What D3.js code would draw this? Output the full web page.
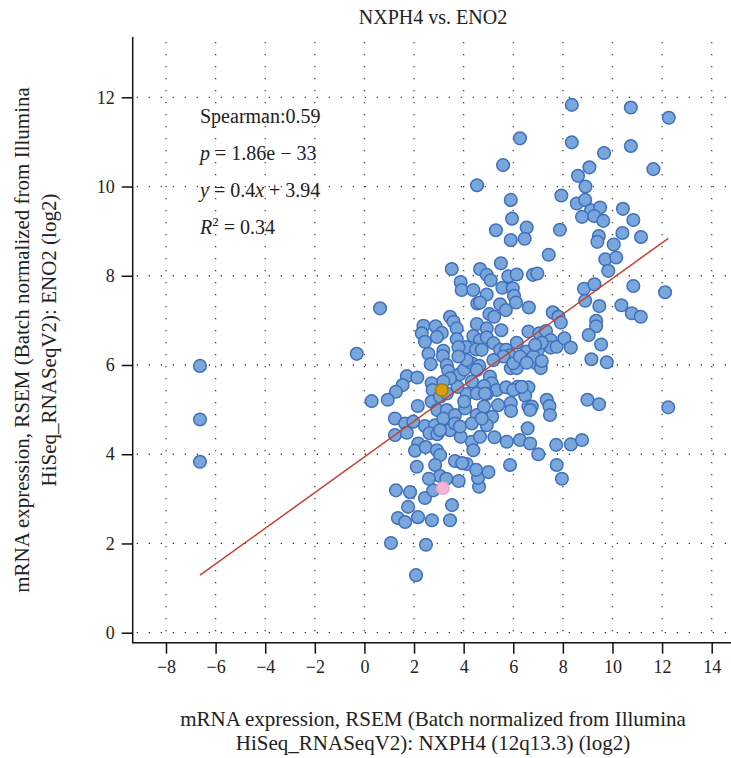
<!DOCTYPE html>
<html>
<head>
<meta charset="utf-8">
<script src="https://cdn.jsdelivr.net/npm/d3@7"></script>
<style>
  body { margin: 0; background: #fff; }
  text { font-family: "Liberation Serif", "DejaVu Serif", serif; fill: #222; }
</style>
</head>
<body>
<div id="chart"></div>
<script>
// NXPH4 (x) and ENO2 (y) expression, log2
const nxph4 = [
  -6.63, -6.63, -6.63, -0.31, 0.63,
  3.52, 4.66, 5.5, 7.43, 4.93, 5.09, 5.8, 6.14, 6.79, 6.97, 3.88, 3.92, 4.39, 4.93, 5.56,
  5.98, 6.03, 6.11, 4.55, 4.66, 5.47, 5.7, 6.63, 7.62, 3.45, 3.59, 3.72, 2.38, 2.87, 3.12,
  2.92, 2.31, 2.44, 4.53, 4.93, 5.04, 5.23, 5.52, 4.39, 4.66, 4.93, 5.2, 3.72, 4.1, 3.79,
  4.5, 4.73, 2.58, 2.67, 3.18, 3.16, 5.47, 5.71, 5.87, 6.14, 6.61, 7.05, 7.32, 6.54, 7.0,
  6.92, 7.11, 7.51, 7.51, 7.75, 5.6, 5.9, 6.14, 6.0, 3.32, 3.38, 3.59, 3.83, 4.02, 4.33,
  4.63, 5.06, 5.13, 4.82, 5.33, 4.93, 1.71, 2.13, 2.71, 2.75, 2.71, 2.94, 3.32, 1.54, 1.27,
  0.94, 0.29, 2.15, 1.23, 1.64, 1.97, 2.44, 2.85, 3.18, 3.65, 4.06, 4.12, 4.53, 4.82, 5.15,
  4.93, 5.39, 5.9, 5.91, 5.71, 6.17, 6.61, 6.48, 6.61, 6.75, 7.35, 7.46, 7.48, 1.23, 1.71,
  2.17, 2.62, 2.94, 3.45, 3.88, 4.33, 4.66, 5.24, 5.74, 6.27, 6.58, 6.68, 7.01, 7.73, 2.04,
  2.47, 2.92, 3.05, 3.65, 4.12, 4.39, 2.11, 2.85, 5.87, 7.75,
  3.75, 4.02, 3.65, 3.85, 3.05, 4.53, 4.86, 6.0, 6.34, 4.33, 4.73, 3.45, 3.18, 3.05, 3.32,
  4.33, 4.53, 4.12, 3.79, 5.2, 6.27, 6.81,
  8.36, 10.74, 12.27, 6.27, 8.36, 10.74, 9.66, 11.65, 9.07, 8.61, 8.91, 7.94, 8.56, 8.9, 9.14,
  9.5, 8.77, 9.26, 9.63, 10.42, 10.84, 6.54, 6.46, 7.88, 9.45, 9.39, 10.4, 11.15, 10.05, 9.71,
  10.15, 9.83, 8.85, 9.27, 10.84, 12.12, 8.9, 9.47, 10.36, 10.78, 11.14, 7.59, 7.82, 7.92, 9.34,
  9.34, 8.06, 8.32, 9.04, 9.54, 9.15, 9.77, 7.15, 6.88, 6.54, 7.15, 6.68, 8.99, 9.46, 12.25,
  8.32, 8.77,
  4.54, 5.59, 5.9, 5.95, 5.3, 5.9,
  1.07, 2.08, 2.48, 2.16, 1.35, 1.64, 1.27, 1.76, 1.84, 2.44, 2.77, 3.05, 2.72, 3.53, 3.45,
  4.62, 4.58, 4.5, 3.94, 7.96, 3.3, 3.8, 5.0, 2.6
];
const eno2 = [
  5.98, 4.78, 3.83, 6.25, 7.27,
  8.15, 8.15, 8.28, 8.47, 8.02, 7.9, 7.99, 8.03, 8.02, 8.05, 7.86, 7.68, 7.68, 7.58, 7.73,
  7.72, 7.55, 7.4, 7.38, 7.4, 7.36, 7.23, 7.29, 7.17, 7.08, 6.97, 6.82, 6.88, 6.87, 6.72,
  6.63, 6.71, 6.52, 6.92, 6.82, 7.14, 7.08, 6.78, 6.65, 6.56, 6.62, 6.49, 6.58, 6.4, 6.4,
  6.35, 6.34, 6.25, 6.02, 6.32, 6.2, 6.34, 6.34, 6.22, 6.5, 6.75, 6.71, 6.76, 6.3, 6.34,
  6.04, 5.93, 6.56, 6.39, 6.41, 6.19, 5.93, 5.93, 6.04, 6.0, 5.87, 5.7, 5.79, 5.9, 6.04,
  5.98, 5.74, 5.59, 5.53, 5.44, 5.35, 5.75, 5.72, 5.59, 5.44, 5.18, 4.99, 4.99, 5.55, 5.4,
  5.22, 5.19, 5.08, 4.8, 4.69, 4.73, 4.63, 4.65, 4.8, 4.88, 5.03, 5.35, 4.88, 5.07, 4.84,
  4.65, 5.1, 5.15, 4.97, 5.5, 5.51, 5.5, 5.31, 5.07, 5.07, 5.22, 5.08, 4.88, 4.43, 4.48,
  4.24, 4.47, 4.45, 4.54, 4.39, 4.28, 4.39, 4.38, 4.28, 4.32, 4.58, 4.24, 4.0, 4.21, 4.08,
  4.16, 4.09, 3.98, 3.85, 3.78, 4.09, 3.72, 3.76, 3.76, 3.76,
  5.51, 5.18, 4.69, 4.62, 4.54, 5.36, 5.36, 5.44, 5.51, 4.69, 4.8, 5.7, 5.63, 5.29, 5.36,
  5.63, 5.89, 6.11, 6.19, 6.11, 6.19, 6.19,
  11.83, 11.77, 11.54, 11.08, 10.99, 10.91, 10.75, 10.39, 10.43, 10.24, 10.0, 9.8, 9.62, 9.7, 9.47,
  9.53, 9.32, 9.34, 9.23, 9.5, 9.25, 9.08, 8.83, 9.03, 8.89, 8.76, 8.96, 8.87, 8.7, 8.37,
  8.41, 8.11, 7.71, 7.81, 7.77, 7.63, 7.44, 7.32, 7.34, 7.16, 7.08, 7.18, 7.08, 6.95, 6.99,
  6.87, 6.6, 6.39, 6.67, 6.46, 6.13, 6.06, 6.5, 6.45, 6.05, 6.09, 4.99, 5.22, 5.12, 5.05,
  4.22, 4.32,
  10.03, 10.48, 9.7, 9.28, 9.02, 8.8,
  2.01, 1.29, 1.97, 2.59, 2.57, 2.48, 3.19, 2.82, 3.15, 3.02, 3.19, 3.51, 2.52, 2.86, 2.52,
  3.27, 3.47, 3.65, 3.8, 3.45, 3.45, 3.4, 3.6, 3.45
];
// highlighted samples
const goldPoint = [3.12, 5.44];
const pinkPoint = [3.16, 3.24];

const xTicks = [-8, -6, -4, -2, 0, 2, 4, 6, 8, 10, 12, 14];
const yTicks = [0, 2, 4, 6, 8, 10, 12];
const fitSlope = 0.4, fitIntercept = 3.94;
const fitRange = [-6.63, 12.25];

const width = 731, height = 758;
const svg = d3.select('#chart').append('svg')
    .attr('width', width)
    .attr('height', height);

const x = d3.scaleLinear().domain([-8, 14]).range([166, 711.7]);
const y = d3.scaleLinear().domain([0, 12]).range([632.7, 97.3]);

const axisLeft = 132.7, axisBottom = 642.7, plotTop = 37, plotRight = 726;

// dotted grid
const grid = svg.append('g')
    .attr('stroke', '#444')
    .attr('stroke-width', 1.3)
    .attr('stroke-dasharray', '1.3,10.7');
grid.selectAll('.vg').data(xTicks).join('line')
    .attr('x1', d => x(d)).attr('x2', d => x(d))
    .attr('y1', plotTop + 5).attr('y2', axisBottom);
grid.selectAll('.hg').data(yTicks).join('line')
    .attr('x1', axisLeft + 4).attr('x2', plotRight)
    .attr('y1', d => y(d)).attr('y2', d => y(d));

// axes
const xAxis = d3.axisBottom(x).tickValues(xTicks).tickSize(11).tickPadding(7)
    .tickFormat(d => d < 0 ? '\u2212' + Math.abs(d) : d);
svg.append('g')
    .attr('transform', `translate(0,${axisBottom})`)
    .call(xAxis)
    .call(g => g.select('.domain').remove())
    .call(g => g.selectAll('line').attr('stroke', '#111').attr('stroke-width', 1.5))
    .call(g => g.selectAll('text').attr('font-size', 18).attr('fill', '#222')
        .attr('font-family', '"Liberation Serif", serif'));

const yAxis = d3.axisLeft(y).tickValues(yTicks).tickSize(11).tickPadding(7);
svg.append('g')
    .attr('transform', `translate(${axisLeft},0)`)
    .call(yAxis)
    .call(g => g.select('.domain').remove())
    .call(g => g.selectAll('line').attr('stroke', '#111').attr('stroke-width', 1.5))
    .call(g => g.selectAll('text').attr('font-size', 18).attr('fill', '#222')
        .attr('font-family', '"Liberation Serif", serif'));

svg.append('path')
    .attr('d', `M${axisLeft},${plotTop}V${axisBottom}H${width}`)
    .attr('fill', 'none')
    .attr('stroke', '#111')
    .attr('stroke-width', 1.5);

// points
const pts = nxph4.map((v, i) => [v, eno2[i]]);
svg.append('g')
    .selectAll('circle')
    .data(pts)
    .join('circle')
    .attr('cx', d => x(d[0]))
    .attr('cy', d => y(d[1]))
    .attr('r', 6.3)
    .attr('fill', '#7aa7db')
    .attr('stroke', '#3f6fbd')
    .attr('stroke-width', 1.5);

svg.append('circle')
    .attr('cx', x(pinkPoint[0])).attr('cy', y(pinkPoint[1])).attr('r', 6.3)
    .attr('fill', '#f6b3d3').attr('stroke', '#e9a0c3').attr('stroke-width', 1.2);
svg.append('circle')
    .attr('cx', x(goldPoint[0])).attr('cy', y(goldPoint[1])).attr('r', 6.3)
    .attr('fill', '#d6a10f').attr('stroke', '#a57a0c').attr('stroke-width', 1.5);

// regression line
svg.append('line')
    .attr('x1', x(fitRange[0])).attr('y1', y(fitSlope * fitRange[0] + fitIntercept))
    .attr('x2', x(fitRange[1])).attr('y2', y(fitSlope * fitRange[1] + fitIntercept))
    .attr('stroke', '#c8402c')
    .attr('stroke-width', 1.5);

// title
svg.append('text')
    .attr('x', 433).attr('y', 24)
    .attr('text-anchor', 'middle')
    .attr('font-size', 20)
    .text('NXPH4 vs. ENO2');

// stats
const stats = svg.append('g').attr('font-size', 20);
stats.append('text').attr('x', 200).attr('y', 123).text('Spearman:0.59');
const pLine = stats.append('text').attr('x', 200).attr('y', 160);
pLine.append('tspan').attr('font-style', 'italic').text('p');
pLine.append('tspan').text(' = 1.86e \u2212 33');
const fLine = stats.append('text').attr('x', 200).attr('y', 197);
fLine.append('tspan').attr('font-style', 'italic').text('y');
fLine.append('tspan').text(' = 0.4');
fLine.append('tspan').attr('font-style', 'italic').text('x');
fLine.append('tspan').text(' + 3.94');
const rLine = stats.append('text').attr('x', 200).attr('y', 234);
rLine.append('tspan').attr('font-style', 'italic').text('R');
rLine.append('tspan').attr('font-size', 13).attr('dy', -8).text('2');
rLine.append('tspan').attr('dy', 8).text(' = 0.34');

// axis titles
const xLabel = svg.append('text')
    .attr('text-anchor', 'middle')
    .attr('font-size', 21);
xLabel.append('tspan').attr('x', 433).attr('y', 726)
    .text('mRNA expression, RSEM (Batch normalized from Illumina');
xLabel.append('tspan').attr('x', 433).attr('y', 750)
    .text('HiSeq_RNASeqV2): NXPH4 (12q13.3) (log2)');

const yLabel = svg.append('text')
    .attr('text-anchor', 'middle')
    .attr('font-size', 21)
    .attr('transform', 'translate(29,340) rotate(-90)');
yLabel.append('tspan').attr('x', 0).attr('y', 0)
    .text('mRNA expression, RSEM (Batch normalized from Illumina');
yLabel.append('tspan').attr('x', 0).attr('y', 27)
    .text('HiSeq_RNASeqV2): ENO2 (log2)');
</script>
</body>
</html>
